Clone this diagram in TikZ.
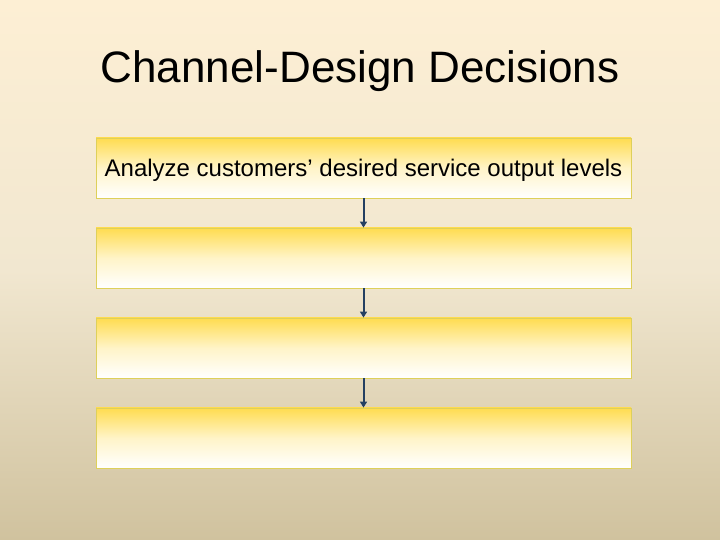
\documentclass[tikz,border=0pt]{standalone}
\usepackage{fontspec}
\setmainfont{Liberation Sans}
\usetikzlibrary{arrows.meta}
\definecolor{bgtop}{RGB}{253,239,212}
\definecolor{bgmid}{RGB}{241,231,208}
\definecolor{bgbot}{RGB}{208,194,158}
\definecolor{boxgold}{RGB}{255,220,80}
\definecolor{boxpale}{RGB}{255,244,200}
\definecolor{boxline}{RGB}{222,208,90}
\definecolor{arrowblue}{RGB}{36,64,98}
\begin{document}
\begin{tikzpicture}[x=1pt,y=1pt,
    stepbox/.style={draw=boxline,line width=0.8pt,top color=boxgold,bottom color=white,middle color=boxpale,
        minimum width=535pt,minimum height=60pt,inner sep=0pt,text height=18pt,text depth=0pt,
        font=\fontsize{24}{28}\selectfont},
    flow/.style={draw=arrowblue,line width=2pt,-{Triangle[width=7pt,length=6pt]}}]
            \fill[top color=bgtop,bottom color=bgbot,middle color=bgmid] (0,0) rectangle (720,540);
            \node[anchor=base,font=\fontsize{44}{52}\selectfont] (title) at (360,457) {Channel-Design Decisions};
            \node[stepbox] (s1) at (363.5,372) {Analyze customers’ desired service output levels};
            \foreach \i/\y in {2/282,3/192,4/102}
            {
                \node[stepbox] (s\i) at (363.5,\y) {};
            }
            \foreach \a/\b in {s1/s2,s2/s3,s3/s4}
                \draw[flow] (\a) -- (\b);
        \end{tikzpicture}
\end{document}
